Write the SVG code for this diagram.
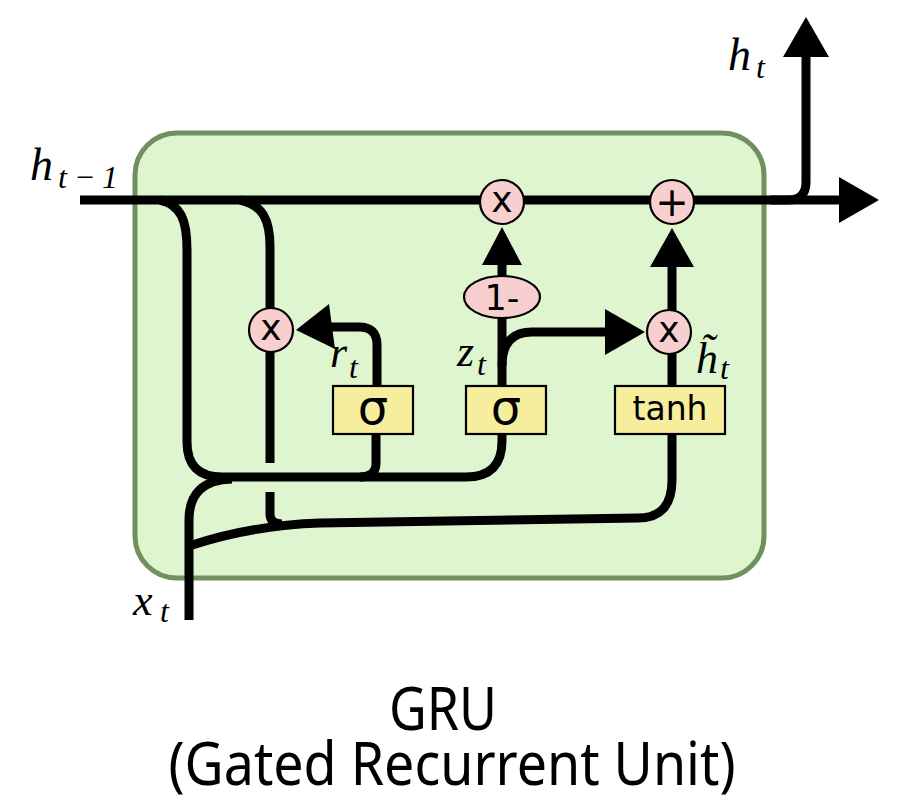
<svg xmlns="http://www.w3.org/2000/svg" width="911" height="805" viewBox="0 0 911 805">
<style>
.w{fill:none;stroke:#000;stroke-width:9;stroke-linecap:butt;stroke-linejoin:round}
.ah{fill:#000;stroke:none}
.op{fill:#f8cfcf;stroke:#000;stroke-width:2.2}
.box{fill:#f6ee9c;stroke:#000;stroke-width:2.2}
.sym{font-family:"DejaVu Sans",sans-serif;fill:#000;text-anchor:middle}
.m{font-family:"Liberation Serif","DejaVu Serif",serif;font-style:italic;fill:#000}
.title{font-family:"Noto Sans","Noto Sans CJK KR",sans-serif;fill:#000;text-anchor:middle}
</style>
<rect width="911" height="805" fill="#ffffff"/>
<g id="cell">
<rect x="135" y="133" width="629" height="445" rx="42" ry="42" fill="#dff5d0" stroke="#728f5e" stroke-width="5"/>
</g>
<g id="connectors">
<path class="w" d="M80 200 L842 200"/>
<polygon class="ah" points="839,177 879,200 839,223"/>
<path class="w" d="M770 200 L788 200 Q806 200 806 182 L806 55"/>
<polygon class="ah" points="783,57 806,17 829,57"/>
<path class="w" d="M160 200 C181 205 187 220 187 250 L187 442 Q187 477 222 477 L466 477 Q502 477 502 441 L502 433"/>
<path class="w" d="M376 433 L376 463 Q376 477 360 477"/>
<path class="w" d="M189 620 L189 520 Q189 480 232 479"/>
<path class="w" d="M240 200 C263 205 270 220 270 247 L270 308"/>
<path class="w" d="M270 352 L270 463"/>
<path class="w" d="M270 492 L270 514 Q270 524 282 524"/>
<path class="w" d="M189 546 C222 535 262 525 320 523 L638 518 Q672 518 672 480 L672 433"/>
<path class="w" d="M377 386 L377 345 Q377 327 359 327 L328 327"/>
<polygon class="ah" points="296,330 329,304 335,349"/>
<path class="w" d="M502 386 L502 318"/>
<path class="w" d="M502 276 L502 260"/>
<polygon class="ah" points="482,265 502,227 522,265"/>
<path class="w" d="M502 366 Q502 332 532 332 L610 332"/>
<polygon class="ah" points="605,309 645,332 605,355"/>
<path class="w" d="M672 386 L672 354"/>
<path class="w" d="M672 310 L672 262"/>
<polygon class="ah" points="650,267 672,228 694,267"/>
</g>
<g id="mul_top">
<circle class="op" cx="502" cy="202" r="22"/>
<text class="sym" x="502" y="212" font-size="36">x</text>
</g>
<g id="add_top">
<circle class="op" cx="672" cy="202" r="22"/>
<text class="sym" x="672" y="216" font-size="40">+</text>
</g>
<g id="mul_reset">
<circle class="op" cx="271" cy="330" r="22"/>
<text class="sym" x="271" y="340" font-size="36">x</text>
</g>
<g id="mul_cand">
<circle class="op" cx="669" cy="332" r="22"/>
<text class="sym" x="669" y="342" font-size="36">x</text>
</g>
<g id="one_minus">
<ellipse class="op" cx="502" cy="297" rx="38" ry="21"/>
<text class="sym" x="502" y="310" font-size="35">1-</text>
</g>
<g id="sigma_r">
<rect class="box" x="333" y="386" width="80" height="48"/>
<text class="sym" x="373" y="424" font-size="48">σ</text>
</g>
<g id="sigma_z">
<rect class="box" x="466" y="386" width="80" height="48"/>
<text class="sym" x="506" y="424" font-size="48">σ</text>
</g>
<g id="tanh">
<rect class="box" x="615" y="386" width="110" height="48"/>
<text class="sym" x="670" y="420" font-size="33">tanh</text>
</g>
<g id="labels">
<text class="m" x="30" y="180" font-size="46">h<tspan x="58" y="188" font-size="32" textLength="60" lengthAdjust="spacing">t−1</tspan></text>
<text class="m" x="728" y="70" font-size="46">h<tspan x="756" y="78" font-size="32">t</tspan></text>
<text class="m" x="330" y="367" font-size="44">r<tspan x="349" y="378" font-size="32">t</tspan></text>
<text class="m" x="457" y="366" font-size="44">z<tspan x="477" y="375" font-size="32">t</tspan></text>
<text class="m" x="696" y="373" font-size="44">h&#x303;<tspan x="720" y="379" font-size="32">t</tspan></text>
<text class="m" x="133" y="615" font-size="44">x<tspan x="160" y="622" font-size="32">t</tspan></text>
</g>
<g id="title">
<text class="title" font-size="60"><tspan x="443" y="730" textLength="108" lengthAdjust="spacingAndGlyphs">GRU</tspan><tspan x="452" y="785" textLength="567" lengthAdjust="spacingAndGlyphs">(Gated Recurrent Unit)</tspan></text>
</g>
</svg>
